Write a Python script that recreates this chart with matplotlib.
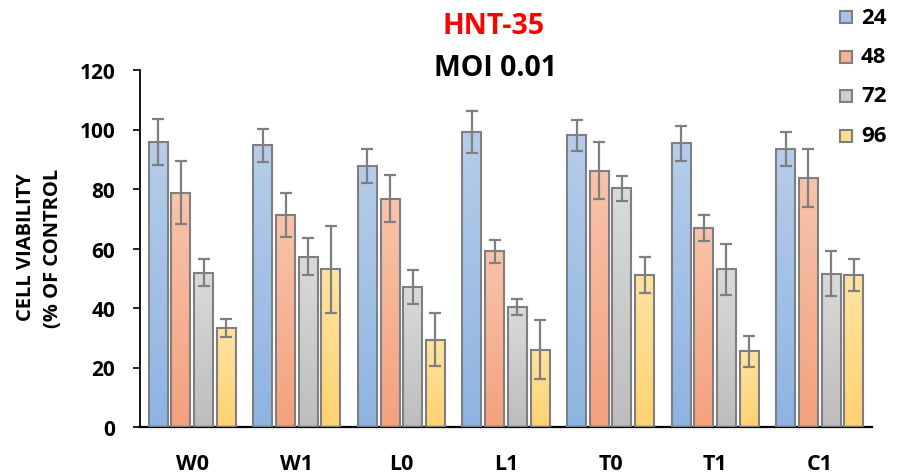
import numpy as np
import matplotlib
matplotlib.use("Agg")
import matplotlib.pyplot as plt
from matplotlib.patches import Rectangle
from matplotlib.colors import to_rgb

categories = ["W0", "W1", "L0", "L1", "T0", "T1", "C1"]
series_labels = ["24", "48", "72", "96"]

v24 = [95.7, 94.7, 87.8, 99.2, 98.0, 95.4, 93.4]
v48 = [78.8, 71.4, 76.7, 59.0, 86.1, 66.9, 83.6]
v72 = [51.9, 57.3, 47.0, 40.4, 80.3, 53.0, 51.5]
v96 = [33.2, 53.0, 29.4, 26.0, 51.2, 25.4, 51.2]

e24 = [7.8, 5.5, 5.7, 7.1, 5.2, 5.9, 5.6]
e48 = [10.7, 7.4, 7.9, 3.8, 9.6, 4.4, 9.8]
e72 = [4.6, 6.2, 5.8, 2.7, 4.2, 8.6, 7.6]
e96 = [3.0, 14.7, 8.8, 10.0, 6.0, 5.1, 5.4]

values = [v24, v48, v72, v96]
errors = [e24, e48, e72, e96]

# (top colour, bottom colour) of each series' vertical gradient
gradients = [("#b7cdea", "#8db4e2"),
             ("#f8c4ab", "#f4a17d"),
             ("#dadada", "#bdbdbd"),
             ("#ffe3a2", "#ffd270")]
legend_fill = ["#a7c3e8", "#f6b295", "#cdcdcd", "#ffdb8c"]
edge = "#7f7f7f"

plt.rcParams["font.family"] = ["Open Sans", "DejaVu Sans"]
plt.rcParams["font.weight"] = "bold"

W, H = 901, 477
fig = plt.figure(figsize=(W / 100, H / 100), dpi=100)
ax = fig.add_axes([140 / W, 49 / H, 732 / W, 357 / H])

x = np.arange(len(categories))
step = 0.217
width = 0.182
offsets = (np.arange(4) - 1.5) * step

for i in range(4):
    xs = x + offsets[i]
    bars = ax.bar(xs, values[i], width=width, facecolor="none",
                  edgecolor=edge, linewidth=1.5, zorder=3)
    top, bot = np.array(to_rgb(gradients[i][0])), np.array(to_rgb(gradients[i][1]))
    t = np.linspace(0, 1, 128)[:, None]
    grad = (bot * (1 - t) + top * t)[:, None, :]
    for b, h in zip(bars.patches, values[i]):
        x0 = b.get_x()
        im = ax.imshow(grad, extent=[x0, x0 + width, 0, h], origin="lower",
                       aspect="auto", interpolation="bilinear", zorder=2)
        im.set_clip_path(b)
    ax.errorbar(xs, values[i], yerr=errors[i], fmt="none", ecolor=edge,
                elinewidth=1.6, capsize=4, capthick=1.6, zorder=4)

ax.set_xlim(-0.5, len(categories) - 0.5)
ax.set_ylim(0, 120)
ax.set_yticks(np.arange(0, 121, 20))
ax.set_xticks(x)
ax.set_xticklabels(categories, fontsize=15.5, fontweight="bold")
ax.tick_params(axis="x", length=0, pad=18.5)
ax.tick_params(axis="y", length=5.3, width=1.2, labelsize=15, pad=12.5, direction="out")
for lbl in ax.get_yticklabels():
    lbl.set_fontweight("bold")
for s in ["top", "right"]:
    ax.spines[s].set_visible(False)
ax.spines["left"].set_linewidth(1.3)
ax.spines["bottom"].set_linewidth(1.6)

fig.text(26 / W, 1 - 247 / H, "CELL VIABILITY", rotation=90,
         ha="center", va="center", fontsize=14.5, fontweight="bold")
fig.text(53 / W, 1 - 248 / H, "(% OF CONTROL", rotation=90,
         ha="center", va="center", fontsize=14.5, fontweight="bold")

fig.text(494 / W, 1 - 27 / H, "HNT-35", color="#ff0000",
         ha="center", va="center", fontsize=20.5, fontweight="bold")
fig.text(495 / W, 1 - 68 / H, "MOI 0.01", color="black",
         ha="center", va="center", fontsize=20.5, fontweight="bold")

# legend: one swatch and label per series, stacked down the right edge
row_y = [18, 57.5, 97, 137]
box = 12
for lab, fc, yc in zip(series_labels, legend_fill, row_y):
    fig.patches.append(Rectangle(((840) / W, 1 - (yc + box / 2) / H),
                                 box / W, box / H, transform=fig.transFigure,
                                 facecolor=fc, edgecolor=edge, linewidth=1.5))
    fig.text(861 / W, 1 - yc / H, lab, ha="left", va="center",
             fontsize=16, fontweight="bold")

fig.savefig("out.png", dpi=100)
